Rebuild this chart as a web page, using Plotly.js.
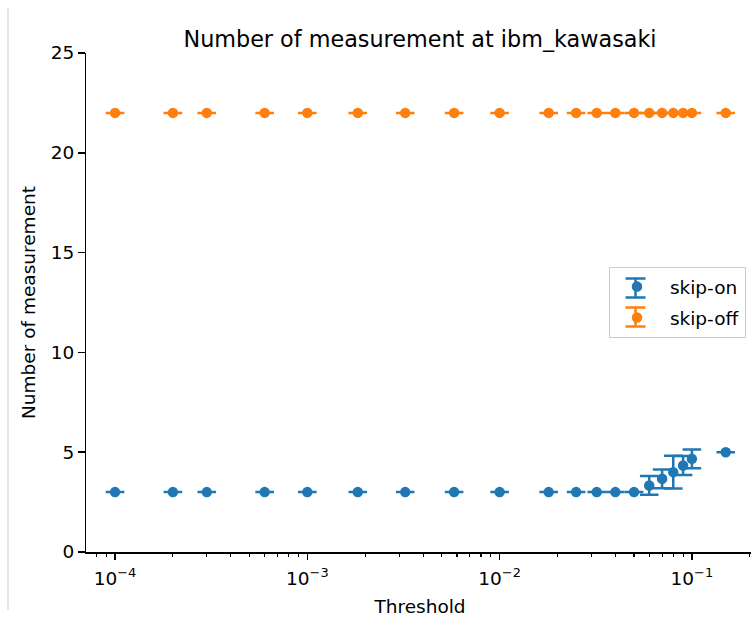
<!DOCTYPE html>
<html>
<head>
<meta charset="utf-8">
<script src="https://cdn.plot.ly/plotly-3.0.1.min.js"></script>
<style>
html, body { margin: 0; padding: 0; overflow: hidden; background: #fff; }
#chart { width: 760px; height: 623px; }
</style>
</head>
<body>
<div id="chart"></div>
<script>
// Threshold values (x)
const thresholds = [1e-4, 2e-4, 3e-4, 6e-4, 1e-3, 1.83e-3, 3.23e-3, 5.8e-3, 1e-2, 1.8e-2,
                    2.5e-2, 3.2e-2, 4e-2, 5e-2, 6e-2, 7e-2, 8e-2, 9e-2, 0.1, 0.15];
// skip-on: mean number of measurements and std
const skipOnMean = [3, 3, 3, 3, 3, 3, 3, 3, 3, 3,
                    3, 3, 3, 3, 3.333, 3.667, 4.0, 4.333, 4.667, 5];
const skipOnErr  = [0, 0, 0, 0, 0, 0, 0, 0, 0, 0,
                    0, 0, 0, 0, 0.471, 0.471, 0.816, 0.471, 0.471, 0];
// skip-off
const skipOffMean = [22, 22, 22, 22, 22, 22, 22, 22, 22, 22,
                     22, 22, 22, 22, 22, 22, 22, 22, 22, 22];
const skipOffErr  = [0, 0, 0, 0, 0, 0, 0, 0, 0, 0,
                     0, 0, 0, 0, 0, 0, 0, 0, 0, 0];

const xTickVals = [1e-4, 1e-3, 1e-2, 1e-1];
const xTickText = ['10<sup>−4</sup>', '10<sup>−3</sup>', '10<sup>−2</sup>', '10<sup>−1</sup>'];
const yTickVals = [0, 5, 10, 15, 20, 25];
const seriesNames = ['skip-on', 'skip-off'];
const seriesColors = ['#1f77b4', '#ff7f0e'];

const minorVals = [];
for (let e = -5; e <= 0; e++) {
  for (let m = 2; m <= 9; m++) minorVals.push(m * Math.pow(10, e));
}

const FONT = 'DejaVu Sans, sans-serif';
const W = 760, H = 623, ML = 86, MR = 6, MT = 53, MB = 71;
const PW = W - ML - MR, PH = H - MT - MB;
const px2x = p => (p - ML) / PW;
const px2y = p => (H - MB - p) / PH;

function mkTrace(y, err, i) {
  return {
    type: 'scatter', mode: 'markers', name: '\u00a0' + seriesNames[i],
    legendgroup: 'g' + i,
    x: thresholds, y: y,
    marker: { color: seriesColors[i], size: 10.5 },
    error_y: { type: 'data', array: err, visible: true, color: seriesColors[i], thickness: 2.5, width: 9.3 },
    cliponaxis: false
  };
}

const data = [mkTrace(skipOnMean, skipOnErr, 0), mkTrace(skipOffMean, skipOffErr, 1)];

// legend error-bar glyphs (matplotlib style), aligned with the legend markers
const glyphCx = 635.5, glyphCy = [288, 317], glyphHalfH = 9.5, glyphHalfW = 10;
const shapes = [{
  type: 'line', xref: 'paper', yref: 'paper',
  x0: px2x(8), x1: px2x(8), y0: px2y(8), y1: px2y(610),
  line: { color: '#d0d0d0', width: 1 }
}];
glyphCy.forEach((cy, i) => {
  const c = seriesColors[i];
  shapes.push({ type: 'line', xref: 'paper', yref: 'paper', layer: 'above',
    x0: px2x(glyphCx), x1: px2x(glyphCx), y0: px2y(cy - glyphHalfH), y1: px2y(cy + glyphHalfH),
    line: { color: c, width: 2.5 } });
  [cy - glyphHalfH, cy + glyphHalfH].forEach(yy => shapes.push({ type: 'line', xref: 'paper', yref: 'paper', layer: 'above',
    x0: px2x(glyphCx - glyphHalfW), x1: px2x(glyphCx + glyphHalfW), y0: px2y(yy), y1: px2y(yy),
    line: { color: c, width: 2.5 } }));
});

const layout = {
  width: W, height: H,
  margin: { l: ML, r: MR, t: MT, b: MB },
  paper_bgcolor: '#fff', plot_bgcolor: '#fff',
  font: { family: FONT, size: 18.5, color: '#000' },
  title: { text: 'Number of measurement at ibm_kawasaki', font: { family: FONT, size: 22.3, color: '#000' },
           x: 0.5, xref: 'paper', xanchor: 'center', y: 1, yref: 'paper', yanchor: 'bottom', pad: { b: 6 } },
  xaxis: {
    type: 'log', range: [-4.151, -0.677],
    tickmode: 'array', tickvals: xTickVals, ticktext: xTickText,
    ticks: 'outside', ticklen: 6.5, tickwidth: 1.5, tickcolor: '#000',
    ticklabelstandoff: 3,
    showline: true, linecolor: '#000', linewidth: 1.5,
    showgrid: false, zeroline: false,
    tickfont: { family: FONT, size: 18.5, color: '#000' },
    minor: { tickmode: 'array', tickvals: minorVals, ticks: 'outside', ticklen: 3.7, tickwidth: 1.1, tickcolor: '#000', showgrid: false },
    title: { text: 'Threshold', font: { family: FONT, size: 18.5, color: '#000' }, standoff: 12 }
  },
  yaxis: {
    range: [0, 25], tickmode: 'array', tickvals: yTickVals,
    ticks: 'outside', ticklen: 6.5, tickwidth: 1.5, tickcolor: '#000',
    showline: true, linecolor: '#000', linewidth: 1.5,
    showgrid: false, zeroline: false,
    tickfont: { family: FONT, size: 18.5, color: '#000' },
    title: { text: 'Number of measurement', font: { family: FONT, size: 18.5, color: '#000' }, standoff: 10 }
  },
  legend: {
    x: px2x(609), xanchor: 'left', y: px2y(267), yanchor: 'top',
    bgcolor: 'rgba(255,255,255,0)', bordercolor: '#cccccc', borderwidth: 1,
    font: { family: FONT, size: 18.5, color: '#000' },
    traceorder: 'grouped', tracegroupgap: 4,
    itemwidth: 44
  },
  shapes: shapes,
  showlegend: true
};

Plotly.newPlot('chart', data, layout, { displayModeBar: false, staticPlot: true });
</script>
</body>
</html>
